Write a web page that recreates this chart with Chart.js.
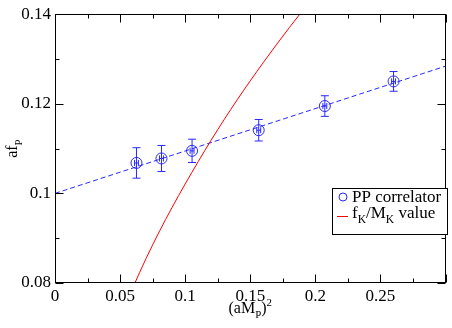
<!DOCTYPE html>
<html><head><meta charset="utf-8">
<script src="https://cdn.jsdelivr.net/npm/chart.js@4"></script>
<style>html,body{margin:0;padding:0;background:#fff}</style>
</head><body>
<canvas id="c" width="452" height="328" style="width:452px;height:328px;display:block"></canvas>
<script>
// ---- data ----
const ppX    = [0.0626, 0.0818, 0.1053, 0.1565, 0.2073, 0.2601];
const ppY    = [0.1068, 0.1078, 0.1095, 0.1141, 0.1195, 0.1250];
const ppYErr = [0.0034, 0.0029, 0.0026, 0.0024, 0.0023, 0.0022];
const ppXErr = [0.0015, 0.0015, 0.0015, 0.0015, 0.0015, 0.0015];
const fitX   = [0, 0.3];
const fitY   = [0.1, 0.1284];
const fkX    = [0.06, 0.07, 0.08, 0.09, 0.10, 0.12, 0.14, 0.16, 0.18, 0.20];
const fkY    = [0.0791, 0.0855, 0.0914, 0.0969, 0.1021, 0.1119, 0.1209, 0.1292, 0.1370, 0.1444];
const xTicks = [0, 0.05, 0.1, 0.15, 0.2, 0.25, 0.3];
const xTickLabels = ['0', '0.05', '0.1', '0.15', '0.2', '0.25', ''];
const xMinor = [0.025, 0.075, 0.125, 0.175, 0.225, 0.275];
const yTicks = [0.08, 0.1, 0.12, 0.14];
const yTickLabels = ['0.08', '0.1', '0.12', '0.14'];
const yMinor = [0.09, 0.11, 0.13];
const legendLabels = ['PP correlator', 'f_K/M_K value'];

const BLUE = 'rgb(40,40,255)';
const RED = 'rgb(255,0,0)';
const FONT = "'Liberation Serif', 'Times New Roman', serif";

function pairs(xs, ys){ return xs.map((x,i)=>({x:x, y:ys[i]})); }

function drawRich(ctx, parts, x, y, size){
  let cx = x;
  parts.forEach(p=>{
    const s = p.k ? size*0.68 : size;
    ctx.font = s + 'px ' + FONT;
    let dy = 0;
    if (p.k === 'sub') dy = size*0.32;
    if (p.k === 'sup') dy = -size*0.45;
    ctx.fillText(p.t, cx, y + dy);
    cx += ctx.measureText(p.t).width;
  });
  return cx - x;
}
function richWidth(ctx, parts, size){
  let w = 0;
  parts.forEach(p=>{
    const s = p.k ? size*0.68 : size;
    ctx.font = s + 'px ' + FONT;
    w += ctx.measureText(p.t).width;
  });
  return w;
}

const decor = {
  id: 'decor',
  beforeDatasetsDraw(chart){
    const ctx = chart.ctx, xs = chart.scales.x, ys = chart.scales.y;
    ctx.save();
    ctx.strokeStyle = BLUE; ctx.lineWidth = 1;
    ppX.forEach((x,i)=>{
      const px = xs.getPixelForValue(x);
      const pt = ys.getPixelForValue(ppY[i] + ppYErr[i]);
      const pb = ys.getPixelForValue(ppY[i] - ppYErr[i]);
      const py = ys.getPixelForValue(ppY[i]);
      const pl = xs.getPixelForValue(x - ppXErr[i]);
      const pr = xs.getPixelForValue(x + ppXErr[i]);
      ctx.beginPath();
      ctx.moveTo(px, pt); ctx.lineTo(px, pb);
      ctx.moveTo(px-4, pt); ctx.lineTo(px+4, pt);
      ctx.moveTo(px-4, pb); ctx.lineTo(px+4, pb);
      ctx.moveTo(pl, py); ctx.lineTo(pr, py);
      ctx.moveTo(pl, py-3); ctx.lineTo(pl, py+3);
      ctx.moveTo(pr, py-3); ctx.lineTo(pr, py+3);
      ctx.stroke();
    });
    ctx.restore();
  },
  afterDraw(chart){
    const ctx = chart.ctx, xs = chart.scales.x, ys = chart.scales.y;
    const a = chart.chartArea;
    ctx.save();
    ctx.strokeStyle = '#000'; ctx.lineWidth = 1;
    const L = Math.round(a.left)+0.5, R = Math.round(a.right)-0.5;
    const T = Math.round(a.top)+0.5, B = Math.round(a.bottom)-0.5;
    ctx.strokeRect(L, T, R-L, B-T);
    ctx.beginPath();
    xTicks.forEach(v=>{
      const p = Math.round(xs.getPixelForValue(v))+0.5;
      ctx.moveTo(p, B); ctx.lineTo(p, B-8);
      ctx.moveTo(p, T); ctx.lineTo(p, T+8);
    });
    xMinor.forEach(v=>{
      const p = Math.round(xs.getPixelForValue(v))+0.5;
      ctx.moveTo(p, B); ctx.lineTo(p, B-4);
      ctx.moveTo(p, T); ctx.lineTo(p, T+4);
    });
    yTicks.forEach(v=>{
      const p = Math.round(ys.getPixelForValue(v))+0.5;
      ctx.moveTo(L, p); ctx.lineTo(L+8, p);
      ctx.moveTo(R, p); ctx.lineTo(R-8, p);
    });
    yMinor.forEach(v=>{
      const p = Math.round(ys.getPixelForValue(v))+0.5;
      ctx.moveTo(L, p); ctx.lineTo(L+4, p);
      ctx.moveTo(R, p); ctx.lineTo(R-4, p);
    });
    ctx.stroke();

    // axis titles
    ctx.fillStyle = '#000';
    ctx.textBaseline = 'alphabetic'; ctx.textAlign = 'left';
    const xt = [{t:'(aM'},{t:'P',k:'sub'},{t:')'},{t:'2',k:'sup'}];
    const xw = richWidth(ctx, xt, 16);
    drawRich(ctx, xt, (a.left + a.right)/2 - xw/2, 313, 16);
    const yt = [{t:'af'},{t:'P',k:'sub'}];
    const yw = richWidth(ctx, yt, 16);
    ctx.save();
    ctx.translate(17, (a.top + a.bottom)/2 + yw/2);
    ctx.rotate(-Math.PI/2);
    drawRich(ctx, yt, 0, 0, 16);
    ctx.restore();

    // legend
    const bx = 332.5, by = 188.5, bw = 115, bh = 46;
    ctx.fillStyle = '#fff';
    ctx.fillRect(bx, by, bw, bh);
    ctx.strokeStyle = '#000';
    ctx.strokeRect(bx, by, bw, bh);
    ctx.strokeStyle = BLUE; ctx.lineWidth = 1;
    ctx.beginPath(); ctx.arc(343, 197, 4, 0, Math.PI*2); ctx.stroke();
    ctx.strokeStyle = RED;
    ctx.beginPath(); ctx.moveTo(337, 216.5); ctx.lineTo(348, 216.5); ctx.stroke();
    ctx.fillStyle = '#000';
    drawRich(ctx, [{t:legendLabels[0]}], 352, 202, 17);
    drawRich(ctx, [{t:'f'},{t:'K',k:'sub'},{t:'/M'},{t:'K',k:'sub'},{t:' value'}], 352, 218, 17);
    ctx.restore();
  }
};

new Chart(document.getElementById('c'), {
  type: 'scatter',
  data: {
    datasets: [
      { label: 'fit', data: pairs(fitX, fitY), showLine: true, borderColor: BLUE, borderWidth: 1,
        borderDash: [5, 3], pointRadius: 0, fill: false, order: 3 },
      { label: legendLabels[1], data: pairs(fkX, fkY), showLine: true, borderColor: RED, borderWidth: 1,
        pointRadius: 0, fill: false, cubicInterpolationMode: 'monotone', order: 2 },
      { label: legendLabels[0], data: pairs(ppX, ppY), showLine: false, borderColor: BLUE,
        backgroundColor: 'rgba(0,0,0,0)', pointRadius: 5.5, pointBorderWidth: 1, pointStyle: 'circle', order: 1 }
    ]
  },
  options: {
    responsive: false, animation: false, devicePixelRatio: 1,
    layout: { padding: { top: 6, right: 1, left: 0, bottom: 0 } },
    plugins: { legend: { display: false }, tooltip: { enabled: false } },
    scales: {
      x: { type: 'linear', min: 0, max: 0.3,
        grid: { display: false, drawTicks: false }, border: { display: false },
        ticks: { color: '#000', font: { family: FONT, size: 17 }, padding: 3, maxRotation: 0, autoSkip: false,
          callback: (v, i) => xTickLabels[i] },
        afterBuildTicks: s => { s.ticks = xTicks.map(v => ({ value: v })); },
        afterFit: s => { s.height = 45; } },
      y: { type: 'linear', min: 0.08, max: 0.14,
        grid: { display: false, drawTicks: false }, border: { display: false },
        ticks: { color: '#000', font: { family: FONT, size: 17 }, padding: 4, autoSkip: false,
          callback: (v, i) => yTickLabels[i] },
        afterBuildTicks: s => { s.ticks = yTicks.map(v => ({ value: v })); },
        afterFit: s => { s.width = 55; } }
    }
  },
  plugins: [decor]
});
</script>
</body></html>
